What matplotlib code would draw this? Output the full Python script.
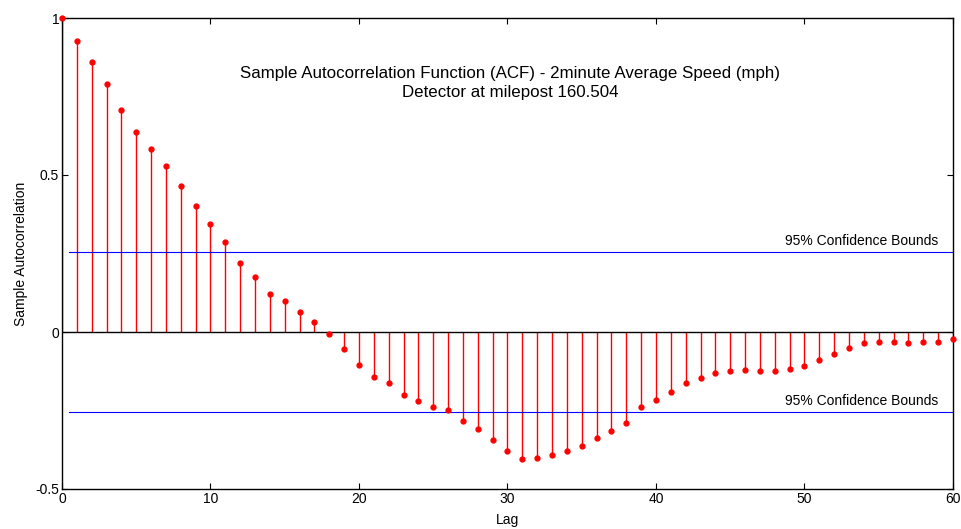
import numpy as np
import matplotlib
matplotlib.use("Agg")
import matplotlib.pyplot as plt

plt.rcParams['font.family'] = ['Liberation Sans', 'DejaVu Sans']

lags = list(range(61))
acf = [1.0, 0.927, 0.861, 0.790, 0.706, 0.638, 0.584, 0.530, 0.466, 0.402,
       0.345, 0.286, 0.220, 0.176, 0.122, 0.100, 0.065, 0.033, -0.007, -0.053,
       -0.105, -0.142, -0.162, -0.202, -0.220, -0.240, -0.248, -0.282, -0.309, -0.343,
       -0.380, -0.405, -0.402, -0.392, -0.380, -0.363, -0.337, -0.314, -0.290, -0.240,
       -0.217, -0.191, -0.162, -0.145, -0.131, -0.123, -0.120, -0.125, -0.123, -0.119,
       -0.108, -0.090, -0.070, -0.051, -0.036, -0.031, -0.033, -0.036, -0.033, -0.033,
       -0.022]
bound = 0.2556

fig = plt.figure(figsize=(9.62, 5.29), dpi=100)
ax = fig.add_axes([62/962, 1-489/529, (953-62)/962, (489-18)/529])

# stems and markers
ax.vlines(lags, 0, acf, color='red', linewidth=1)
ax.plot(lags, acf, 'o', color='red', markersize=3.5, clip_on=False, zorder=3)
ax.axhline(0, color='black', linewidth=1)

# confidence bounds
ax.plot([0.5, 60], [bound, bound], color='blue', linewidth=0.8)
ax.plot([0.5, 60], [-bound, -bound], color='blue', linewidth=0.8)
ax.text(59, bound + 0.012, '95% Confidence Bounds', ha='right', va='bottom', fontsize=10)
ax.text(59, -bound + 0.012, '95% Confidence Bounds', ha='right', va='bottom', fontsize=10)

ax.text(0.503, 0.862, 'Sample Autocorrelation Function (ACF) - 2minute Average Speed (mph)\nDetector at milepost 160.504',
        transform=ax.transAxes, ha='center', va='center', fontsize=12.2, linespacing=1.3)

ax.set_xlim(0, 60)
ax.set_ylim(-0.5, 1)
ax.set_xticks([0, 10, 20, 30, 40, 50, 60])
ax.set_yticks([-0.5, 0, 0.5, 1])
ax.set_yticklabels(['-0.5', '0', '0.5', '1'])
ax.tick_params(direction='in', top=True, right=True, labelsize=10, length=4, pad=2)
ax.set_xlabel('Lag', fontsize=10, labelpad=5)
ax.set_ylabel('Sample Autocorrelation', fontsize=10, labelpad=5)
for s in ax.spines.values():
    s.set_linewidth(1)

fig.savefig('out.png', dpi=100)
